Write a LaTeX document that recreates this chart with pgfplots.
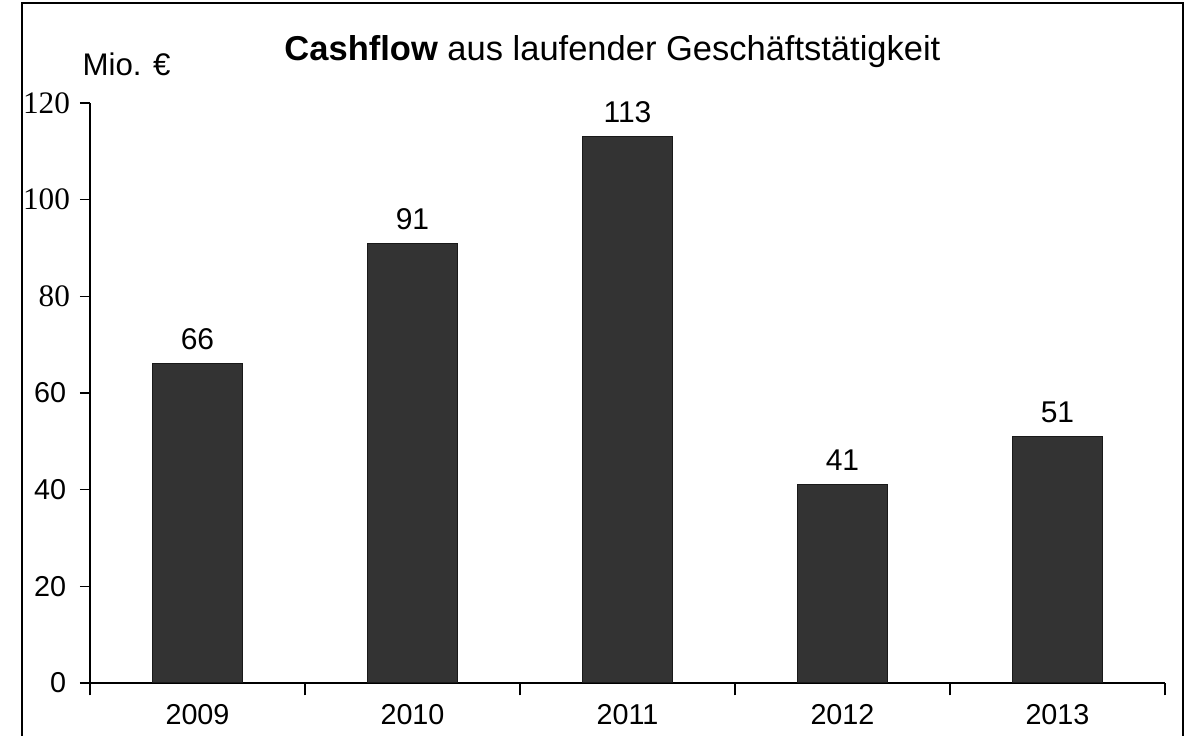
\documentclass[border=0pt]{standalone}
\usepackage{fontspec}
\setmainfont{Liberation Sans}
\newfontfamily\serif{Liberation Serif}
\usepackage{pgfplots}
\pgfplotsset{compat=1.18}
\newcommand{\serlab}[1]{{\serif\fontsize{12.5}{14}\selectfont #1\kern-1.5pt}}
\begin{document}
\begin{tikzpicture}
% frame round the whole picture (0.4pt per reference pixel)
\useasboundingbox (-36pt,-21.2pt) rectangle (438.4pt,273.2pt);
\draw[line width=0.8pt] (-27.2pt,-21.2pt) -- (-27.2pt,272pt) -- (437.2pt,272pt) -- (437.2pt,-21.2pt);
\begin{axis}[
    at={(0,0)}, anchor=south west,
    scale only axis,
    width=430pt, height=232pt,
    xmin=-0.5, xmax=4.5,
    ymin=0, ymax=120,
    ybar, bar width=36pt,
    axis x line=bottom, axis y line=left,
    axis line style={-, line width=0.6pt},
    xtick={0,1,2,3,4},
    xticklabels={2009,2010,2011,2012,2013},
    major x tick style={draw=none},
    minor xtick={-0.5,0.5,1.5,2.5,3.5,4.5},
    minor tick length=5pt,
    ytick={0,20,40,60,80,100,120},
    yticklabels={0,20,40,60,\serlab{80},\serlab{100},\serlab{120}},
    major tick length=4pt,
    tick align=outside,
    tick style={black, line width=0.6pt},
    tick label style={font=\fontsize{11.5}{13}\selectfont},
    xticklabel style={yshift=-1pt},
    yticklabel style={xshift=-2pt},
    /pgf/number format/assume math mode=true,
    nodes near coords,
    every node near coord/.append style={font=\fontsize{12}{14}\selectfont, yshift=2pt},
    clip=false,
]
\addplot[fill=black!80, draw=black!90] coordinates {(0,66) (1,91) (2,113) (3,41) (4,51)};
\node[font=\fontsize{13.8}{16}\selectfont] at (rel axis cs:0.486,1.089) {\textbf{Cashflow} aus laufender Geschäftstätigkeit};
\node[font=\fontsize{12.5}{15}\selectfont] at (rel axis cs:0.034,1.066) {Mio. €};
\end{axis}
\end{tikzpicture}
\end{document}
